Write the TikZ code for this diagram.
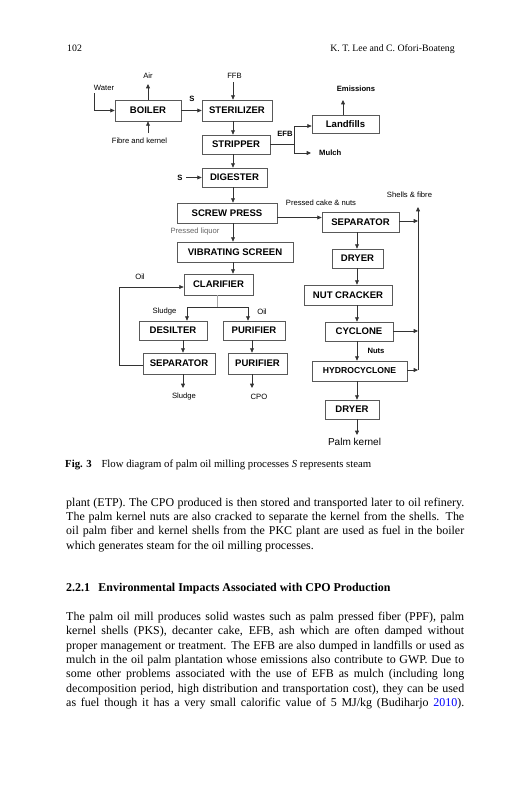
\documentclass[tikz,border=0pt]{standalone}
\usepackage{fontspec}
\setmainfont{Liberation Serif}
\newfontfamily\dia{Liberation Sans}
\usetikzlibrary{arrows.meta}
\newlength\pxu
\setlength\pxu{0.2941mm}
\newcommand\dgbox{\dia\bfseries\fontsize{8}{9}\selectfont}
\newcommand\dglab{\dia\fontsize{6.4}{7}\selectfont}
\newcommand\dglabb{\dia\bfseries\fontsize{6.4}{7}\selectfont}
\newcommand\jline[1]{\makebox[398\pxu][s]{#1}}
\begin{document}
\begin{tikzpicture}[x=0.2941mm,y=-0.2941mm,
 bx/.style={draw=black!65,line width=0.6pt,inner sep=0pt,font=\dgbox},
 lb/.style={inner sep=0pt,font=\dglab},
 lbb/.style={inner sep=0pt,font=\dglabb},
 ar/.style={draw=black!80,line width=0.6pt,-{Triangle[length=3.6pt,width=3.2pt]}},
 ln/.style={draw=black!80,line width=0.6pt},
 bt/.style={anchor=base west,inner sep=0pt,font=\fontsize{10}{12}\selectfont}]
\useasboundingbox[fill=white] (0,0) rectangle (527,800);

% header
\node[anchor=base west,inner sep=0pt,font=\fontsize{8.2}{10}\selectfont] (pg) at (67,51) {102};
\node[anchor=base east,inner sep=0pt,font=\fontsize{8.2}{10}\selectfont] (auth) at (455,51) {K. T. Lee and C. Ofori-Boateng};

% boxes
\node[bx,minimum width=66\pxu,minimum height=21\pxu] (boiler) at (148,110.5) {BOILER};
\node[bx,minimum width=70\pxu,minimum height=21\pxu] (ster) at (237,110.5) {STERILIZER};
\node[bx,minimum width=68\pxu,minimum height=19\pxu] (strip) at (236,144.5) {STRIPPER};
\node[bx,minimum width=65\pxu,minimum height=19\pxu] (dig) at (234.5,177.5) {DIGESTER};
\node[bx,minimum width=100\pxu,minimum height=20\pxu] (screw) at (227,213) {SCREW PRESS};
\node[bx,minimum width=116\pxu,minimum height=20\pxu] (vib) at (235,252) {VIBRATING SCREEN};
\node[bx,minimum width=69\pxu,minimum height=21\pxu] (clar) at (218.5,284.5) {CLARIFIER};
\node[bx,minimum width=68\pxu,minimum height=19\pxu] (desil) at (173,330.5) {DESILTER};
\node[bx,minimum width=62\pxu,minimum height=19\pxu] (pur1) at (254,330.5) {PURIFIER};
\node[bx,minimum width=72\pxu,minimum height=21\pxu] (sep2) at (179,363.5) {SEPARATOR};
\node[bx,minimum width=59\pxu,minimum height=21\pxu] (pur2) at (257.5,363.5) {PURIFIER};
\node[bx,minimum width=67\pxu,minimum height=18\pxu] (land) at (345.5,124) {Landfills};
\node[bx,minimum width=77\pxu,minimum height=20\pxu] (sep1) at (360.5,222) {SEPARATOR};
\node[bx,minimum width=51\pxu,minimum height=19\pxu] (dry1) at (357.5,258.5) {DRYER};
\node[bx,minimum width=88\pxu,minimum height=20\pxu] (nut) at (348,295) {NUT CRACKER};
\node[bx,minimum width=68\pxu,minimum height=19\pxu] (cyc) at (359,331.5) {CYCLONE};
\node[bx,minimum width=95\pxu,minimum height=20\pxu,font=\dia\bfseries\fontsize{7.2}{8}\selectfont] (hydro) at (359.5,371) {HYDROCYCLONE};
\node[bx,minimum width=54\pxu,minimum height=19\pxu] (dry2) at (352,409.5) {DRYER};

% labels
\node[lb] (water) at (104,88) {Water};
\node[lb] (air) at (148,76) {Air};
\node[lb] (fibre) at (139.5,141) {Fibre and kernel};
\node[lbb] (s1) at (192,99) {S};
\node[lb] (ffb) at (234.5,76) {FFB};
\node[lbb] (efb) at (285,134) {EFB};
\node[lbb] (emis) at (356,89) {Emissions};
\node[lbb,anchor=west] (mulch) at (319,152.5) {Mulch};
\node[lbb] (s2) at (180,177.5) {S};
\node[lb] (pcake) at (321,203) {Pressed cake \& nuts};
\node[lb] (shells) at (409.5,195) {Shells \& fibre};
\node[lb,text=black!60] (pliq) at (195,232) {Pressed liquor};
\node[lb] (oil1) at (140,277) {Oil};
\node[lb] (sl1) at (164.5,312) {Sludge};
\node[lb] (oil2) at (262,312) {Oil};
\node[lbb] (nuts) at (376,351) {Nuts};
\node[lb] (sl2) at (184,397) {Sludge};
\node[lb] (cpo) at (259,397) {CPO};
\node[inner sep=0pt,font=\dia\fontsize{8.4}{10}\selectfont] (pk) at (354.5,442) {Palm kernel};

% coordinates
\coordinate (wtop) at (94,93);
\coordinate (airb) at (148,84);
\coordinate (fibt) at (148,133);
\coordinate (cx) at (233,82);
\coordinate (sdig) at (186,177.5);
\coordinate (pcy) at (0,217.5);
\coordinate (efbj) at (294,144.5);
\coordinate (efbt) at (294,126);
\coordinate (efbb) at (294,153);
\coordinate (mulchp) at (311,153);
\coordinate (emb) at (343,100);
\coordinate (cj) at (217,307);
\coordinate (cl) at (187,307);
\coordinate (cr) at (248,307);
\coordinate (dx) at (183,0);
\coordinate (px) at (252,0);
\coordinate (ol) at (119,365);
\coordinate (oy) at (0,287);
\coordinate (slb) at (183,388);
\coordinate (cpob) at (252,388);
\coordinate (rx) at (357,0);
\coordinate (pkb) at (357,435);
\coordinate (vt) at (418,207);
\coordinate (vb) at (418,370);
\coordinate (r1) at (418,221);
\coordinate (r2) at (418,331);

% connectors
\draw[ar] (wtop) |- (boiler.west);
\draw[ar] (boiler.north) -- (airb);
\draw[ar] (fibt) -- (boiler.south);
\draw[ar] (boiler.east) -- (ster.west);
\draw[ar] (cx) -- (ster.north -| cx);
\draw[ar] (ster.south -| cx) -- (strip.north -| cx);
\draw[ar] (strip.south -| cx) -- (dig.north -| cx);
\draw[ar] (sdig) -- (dig.west);
\draw[ar] (dig.south -| cx) -- (screw.north -| cx);
\draw[ar] (screw.south -| cx) -- (vib.north -| cx);
\draw[ar] (vib.south -| cx) -- (clar.north -| cx);
\draw[ar] (screw.east |- pcy) -- (sep1.west |- pcy);
\draw[ln] (strip.east) -- (efbj);
\draw[ln] (efbt) -- (efbb);
\draw[ar] (efbt) -- (land.west |- efbt);
\draw[ar] (efbb) -- (mulchp);
\draw[ar] (land.north -| emb) -- (emb);
\draw[draw=black!35,line width=0.8pt] (clar.south -| cj) -- (cj);
\draw[ln] (cl) -- (cr);
\draw[ar] (cl) -- (desil.north -| cl);
\draw[ar] (cr) -- (pur1.north -| cr);
\draw[ar] (desil.south -| dx) -- (sep2.north -| dx);
\draw[ar] (pur1.south -| px) -- (pur2.north -| px);
\draw[ar] (sep2.west |- ol) -- (ol) |- (clar.west |- oy);
\draw[ar] (sep2.south -| slb) -- (slb);
\draw[ar] (pur2.south -| cpob) -- (cpob);
\draw[ar] (sep1.south -| rx) -- (dry1.north -| rx);
\draw[ar] (dry1.south -| rx) -- (nut.north -| rx);
\draw[ar] (nut.south -| rx) -- (cyc.north -| rx);
\draw[ar] (cyc.south -| rx) -- (hydro.north -| rx);
\draw[ar] (hydro.south -| rx) -- (dry2.north -| rx);
\draw[ar] (dry2.south -| pkb) -- (pkb);
\draw[ar] (vb) -- (vt);
\draw[ar] (sep1.east |- r1) -- (r1);
\draw[ar] (cyc.east |- r2) -- (r2);
\draw[ar] (hydro.east |- vb) -- (vb);

% caption
\node[anchor=base west,inner sep=0pt,font=\fontsize{9}{11}\selectfont] (cap) at (65,467) {\textbf{Fig. 3}\hspace{0.9em}Flow diagram of palm oil milling processes \textit{S} represents steam};

% body text
\node[bt] (t1) at (66,506) {\jline{plant (ETP). The CPO produced is then stored and transported later to oil refinery.}};
\node[bt] (t2) at (66,520.4) {\jline{The palm kernel nuts are also cracked to separate the kernel from the shells. The}};
\node[bt] (t3) at (66,534.7) {\jline{oil palm fiber and kernel shells from the PKC plant are used as fuel in the boiler}};
\node[bt] (t4) at (66,549) {which generates steam for the oil milling processes.};
\node[bt,font=\fontsize{10}{12}\selectfont\bfseries] (hd) at (66,591) {2.2.1\hspace{0.7em}Environmental Impacts Associated with CPO Production};
\node[bt] (u1) at (66,620.5) {\jline{The palm oil mill produces solid wastes such as palm pressed fiber (PPF), palm}};
\node[bt] (u2) at (66,634.9) {\jline{kernel shells (PKS), decanter cake, EFB, ash which are often damped without}};
\node[bt] (u3) at (66,649.2) {\jline{proper management or treatment. The EFB are also dumped in landfills or used as}};
\node[bt] (u4) at (66,663.5) {\jline{mulch in the oil palm plantation whose emissions also contribute to GWP. Due to}};
\node[bt] (u5) at (66,677.9) {\jline{some other problems associated with the use of EFB as mulch (including long}};
\node[bt] (u6) at (66,692.2) {\jline{decomposition period, high distribution and transportation cost), they can be used}};
\node[bt] (u7) at (66,706.6) {\jline{as fuel though it has a very small calorific value of 5 MJ/kg (Budiharjo \textcolor{blue}{2010}).}};
\end{tikzpicture}
\end{document}
